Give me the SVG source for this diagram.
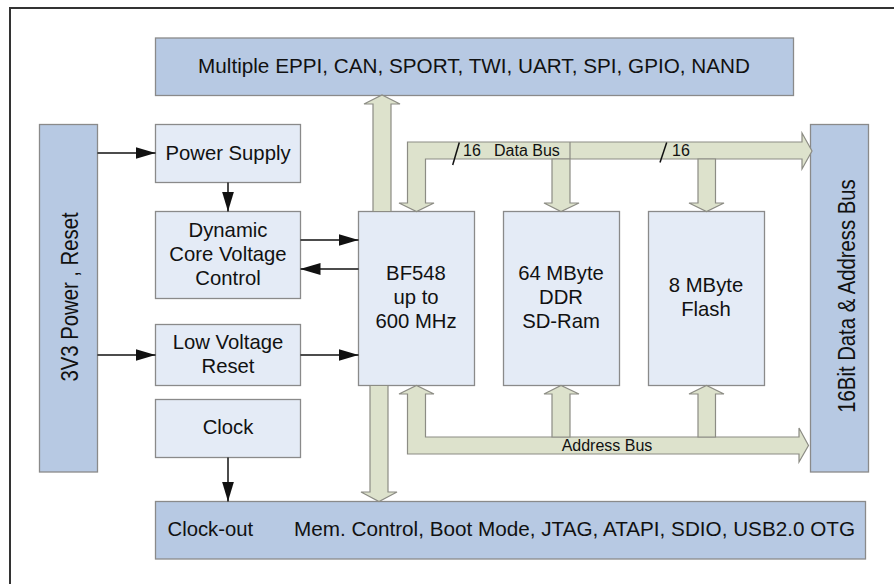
<svg xmlns="http://www.w3.org/2000/svg" width="894" height="584" viewBox="0 0 894 584">
<style>
  .dark { fill: #b7c9e3; stroke: #8a8a8a; stroke-width: 1.3; }
  .light { fill: #e4ebf6; stroke: #8a8a8a; stroke-width: 1.3; }
  .bus { fill: #dde2cc; stroke: #8c8c84; stroke-width: 1.2; }
  .t { font-family: "Liberation Sans", Arial, sans-serif; font-size: 20.3px; fill: #111; }
  .tl { font-size: 20.7px; }
  .tc { text-anchor: middle; }
  .s { font-family: "Liberation Sans", Arial, sans-serif; font-size: 16px; fill: #111; }
  .w { stroke: #111; stroke-width: 1.5; fill: none; }
</style>
<defs>
  <marker id="ah" markerUnits="userSpaceOnUse" markerWidth="20" markerHeight="12" refX="20" refY="6" orient="auto">
    <path d="M0,0 L20,6 L0,12 z" fill="#111"/>
  </marker>
</defs>
<rect x="0" y="0" width="894" height="584" fill="#ffffff"/>
<path d="M10,584 L10,8 L894,8" fill="none" stroke="#333" stroke-width="2"/>

<g id="peripherals">
  <rect class="dark" x="155.5" y="38" width="638" height="57.5"/>
  <text class="t tl tc" x="474" y="73">Multiple EPPI, CAN, SPORT, TWI, UART, SPI, GPIO, NAND</text>
</g>
<g id="power-reset">
  <rect class="dark" x="39.5" y="124.5" width="58" height="347.5"/>
  <text class="t tc" transform="translate(77.5,297) rotate(-90) scale(1,1.15)" x="0" y="0">3V3 Power , Reset</text>
</g>
<g id="power-supply">
  <rect class="light" x="155.5" y="124.5" width="145" height="58"/>
  <text class="t tc" x="228" y="160">Power Supply</text>
</g>
<g id="dcvc">
  <rect class="light" x="155.5" y="211.5" width="145" height="87"/>
  <text class="t tc" x="228" y="237">Dynamic</text>
  <text class="t tc" x="228" y="261">Core Voltage</text>
  <text class="t tc" x="228" y="285">Control</text>
</g>
<g id="lvr">
  <rect class="light" x="155.5" y="324.5" width="145" height="61"/>
  <text class="t tc" x="228" y="348.5">Low Voltage</text>
  <text class="t tc" x="228" y="373">Reset</text>
</g>
<g id="clock">
  <rect class="light" x="155.5" y="399.5" width="145" height="58"/>
  <text class="t tc" x="228" y="434">Clock</text>
</g>
<g id="bf548">
  <rect class="light" x="358.5" y="211.5" width="116" height="174"/>
  <text class="t tc" x="416" y="280">BF548</text>
  <text class="t tc" x="416" y="304">up to</text>
  <text class="t tc" x="416" y="328">600 MHz</text>
</g>
<g id="ddr">
  <rect class="light" x="503.5" y="211.5" width="116" height="174"/>
  <text class="t tc" x="561" y="280">64 MByte</text>
  <text class="t tc" x="561" y="304">DDR</text>
  <text class="t tc" x="561" y="328">SD-Ram</text>
</g>
<g id="flash">
  <rect class="light" x="648.5" y="211.5" width="116" height="174"/>
  <text class="t tc" x="706" y="292">8 MByte</text>
  <text class="t tc" x="706" y="316">Flash</text>
</g>
<g id="ext-bus">
  <rect class="dark" x="810.5" y="124.5" width="58" height="347.5"/>
  <text class="t tc" transform="translate(855,296) rotate(-90) scale(1,1.15)" x="0" y="0">16Bit Data &amp; Address Bus</text>
</g>
<g id="misc">
  <rect class="dark" x="155.5" y="501.5" width="710" height="57.5"/>
  <text class="t" x="167.5" y="536">Clock-out</text>
  <text class="t tl" x="294" y="536">Mem. Control, Boot Mode, JTAG, ATAPI, SDIO, USB2.0 OTG</text>
</g>

<g id="connectors">
  <line class="w" x1="97.5" y1="153" x2="155.5" y2="153" marker-end="url(#ah)"/>
  <line class="w" x1="228" y1="182.5" x2="228" y2="211.5" marker-end="url(#ah)"/>
  <line class="w" x1="300.5" y1="240" x2="358.5" y2="240" marker-end="url(#ah)"/>
  <line class="w" x1="358.5" y1="269" x2="300.5" y2="269" marker-end="url(#ah)"/>
  <line class="w" x1="97.5" y1="355" x2="155.5" y2="355" marker-end="url(#ah)"/>
  <line class="w" x1="300.5" y1="355" x2="358.5" y2="355" marker-end="url(#ah)"/>
  <line class="w" x1="228" y1="457.5" x2="228" y2="501.5" marker-end="url(#ah)"/>

  <polygon class="bus" points="373,211.5 373,104 364,104 382,95 400,104 391,104 391,211.5"/>
  <polygon class="bus" points="370,385.5 370,492 361,492 379,501.5 397,492 388,492 388,385.5"/>

  <polygon class="bus" points="407.5,142 802,142 802,133 812,151 802,169 802,159 425.5,159 425.5,203 434,203 416.5,211.5 399,203 407.5,203"/>
  <line x1="570" y1="142" x2="570" y2="159" stroke="#8c8c84" stroke-width="1.2"/>
  <polygon class="bus" points="552,159 552,203 544,203 561,211.5 579,203 570,203 570,159"/>
  <polygon class="bus" points="698,159 698,203 689,203 706.5,211.5 724,203 715.5,203 715.5,159"/>

  <polygon class="bus" points="407.5,454 799,454 799,462 808.5,445.5 799,428 799,437 425.5,437 425.5,394 434,394 416.5,385.5 399,394 407.5,394"/>
  <polygon class="bus" points="552,437 552,394 544,394 561,385.5 579,394 570,394 570,437"/>
  <polygon class="bus" points="698,437 698,394 689,394 706.5,385.5 724,394 715.5,394 715.5,437"/>

  <line class="w" x1="452.7" y1="165" x2="459.3" y2="142.5"/>
  <line class="w" x1="660" y1="162.5" x2="666.7" y2="142.5"/>
  <text class="s" x="463" y="156">16</text>
  <text class="s" x="494" y="156">Data Bus</text>
  <text class="s" x="672" y="156">16</text>
  <text class="s tc" x="607" y="451">Address Bus</text>
</g>
</svg>
